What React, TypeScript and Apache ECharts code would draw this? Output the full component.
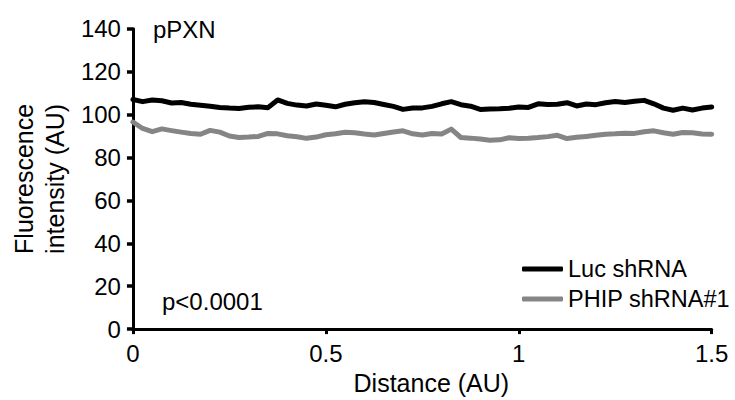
import React, { useEffect, useRef } from "react";
import * as echarts from "echarts";

const distances: number[] = [
  0, 0.025, 0.05, 0.075, 0.1, 0.125, 0.15, 0.175, 0.2, 0.225, 0.25, 0.275, 0.3, 0.325, 0.35, 0.375,
  0.4, 0.425, 0.45, 0.475, 0.5, 0.525, 0.55, 0.575, 0.6, 0.625, 0.65, 0.675, 0.7, 0.725, 0.75, 0.775,
  0.8, 0.825, 0.85, 0.875, 0.9, 0.925, 0.95, 0.975, 1, 1.025, 1.05, 1.075, 1.1, 1.125, 1.15, 1.175,
  1.2, 1.225, 1.25, 1.275, 1.3, 1.325, 1.35, 1.375, 1.4, 1.425, 1.45, 1.475, 1.5,
];

const lucValues: number[] = [
  107.0, 106.0, 106.8, 106.4, 105.4, 105.6, 104.8, 104.3, 103.9, 103.3, 103.0, 102.8, 103.4, 103.6, 103.2, 106.8,
  105.2, 104.4, 104.0, 104.9, 104.3, 103.6, 104.8, 105.5, 106.0, 105.6, 104.7, 103.8, 102.4, 103.0, 103.1, 103.8,
  105.0, 106.0, 104.6, 103.9, 102.4, 102.6, 102.7, 102.9, 103.5, 103.3, 105.0, 104.7, 104.8, 105.5, 104.0, 104.9,
  104.6, 105.5, 106.1, 105.6, 106.2, 106.6, 105.0, 103.0, 102.0, 103.0, 102.1, 103.0, 103.5,
];

const phipValues: number[] = [
  96.5, 93.5, 92.0, 93.3, 92.5, 91.8, 91.2, 90.8, 92.6, 91.8, 90.0, 89.3, 89.5, 89.8, 91.2, 91.0,
  90.1, 89.6, 88.9, 89.5, 90.6, 91.0, 91.7, 91.5, 90.9, 90.5, 91.2, 91.9, 92.4, 91.0, 90.5, 91.2,
  90.9, 93.2, 89.3, 89.0, 88.6, 88.0, 88.2, 89.2, 88.8, 89.0, 89.3, 89.7, 90.3, 88.8, 89.4, 89.8,
  90.3, 90.8, 91.0, 91.3, 91.2, 92.0, 92.4, 91.5, 90.8, 91.6, 91.5, 90.9, 90.8,
];

const seriesNames: string[] = ["Luc shRNA", "PHIP shRNA#1"];
const panelTitle = "pPXN";
const pValueText = "p<0.0001";
const xAxisName = "Distance (AU)";
const yAxisName = "Fluorescence\nintensity (AU)";

const FONT = "'Liberation Sans', Arial, Helvetica, sans-serif";

export default function App() {
  const ref = useRef<HTMLDivElement>(null);

  useEffect(() => {
    if (!ref.current) return;
    const chart = echarts.init(ref.current, undefined, { renderer: "svg" });
    const toPairs = (ys: number[]) => distances.map((x, i) => [x, ys[i]]);
    chart.setOption({
      animation: false,
      backgroundColor: "#ffffff",
      textStyle: { fontFamily: FONT },
      grid: { left: 130.5, right: 23.3, top: 28.7, bottom: 68.3, containLabel: false },
      xAxis: {
        type: "value",
        min: 0,
        max: 1.5,
        interval: 0.5,
        name: xAxisName,
        nameLocation: "middle",
        nameGap: 31,
        nameTextStyle: { fontSize: 25, color: "#000", fontFamily: FONT, padding: [0, 0, 0, 18] },
        axisLine: { show: true, lineStyle: { color: "#000", width: 3 } },
        axisTick: { show: true, length: 5, lineStyle: { color: "#000", width: 3 } },
        axisLabel: { color: "#000", fontSize: 24, fontFamily: FONT, margin: 12 },
        splitLine: { show: false },
      },
      yAxis: {
        type: "value",
        min: 0,
        max: 140,
        interval: 20,
        name: yAxisName,
        nameLocation: "middle",
        nameGap: 62,
        nameTextStyle: { fontSize: 25, color: "#000", fontFamily: FONT, lineHeight: 31 },
        axisLine: { show: true, lineStyle: { color: "#000", width: 3 } },
        axisTick: { show: true, length: 6, lineStyle: { color: "#000", width: 3.5 } },
        axisLabel: { color: "#000", fontSize: 24, fontFamily: FONT, margin: 12 },
        splitLine: { show: false },
      },
      legend: {
        orient: "vertical",
        left: 517,
        top: 252,
        itemGap: 6,
        itemWidth: 41,
        itemHeight: 5,
        icon: "roundRect",
        textStyle: { color: "#000", fontSize: 23.5, fontFamily: FONT },
        data: seriesNames,
      },
      graphic: [
        {
          type: "text",
          left: 153,
          top: 17,
          style: { text: panelTitle, fontSize: 24, fontFamily: FONT, fill: "#000" },
        },
        {
          type: "text",
          left: 162,
          top: 289,
          style: { text: pValueText, fontSize: 24, fontFamily: FONT, fill: "#000" },
        },
      ],
      series: [
        {
          name: seriesNames[0],
          type: "line",
          data: toPairs(lucValues),
          symbol: "none",
          showSymbol: false,
          color: "#000000",
          lineStyle: { color: "#000000", width: 5, cap: "round", join: "round" },
        },
        {
          name: seriesNames[1],
          type: "line",
          data: toPairs(phipValues),
          symbol: "none",
          showSymbol: false,
          color: "#858585",
          lineStyle: { color: "#858585", width: 5, cap: "round", join: "round" },
        },
      ],
    });
    return () => chart.dispose();
  }, []);

  return (
    <div
      ref={ref}
      style={{ position: "fixed", left: 0, top: 0, width: 735, height: 400, background: "#fff" }}
    />
  );
}
